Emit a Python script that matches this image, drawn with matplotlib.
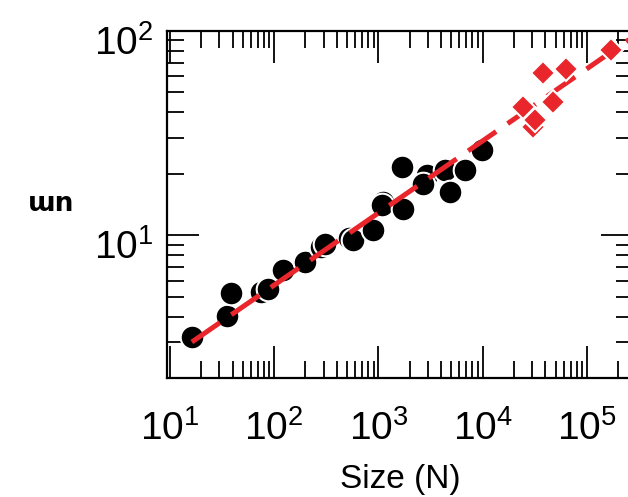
import matplotlib
matplotlib.use("Agg")
import matplotlib.pyplot as plt
from matplotlib.ticker import LogLocator, NullFormatter
from matplotlib.transforms import ScaledTranslation

plt.rcParams['font.family'] = ['Liberation Sans', 'DejaVu Sans']
plt.rcParams['mathtext.fontset'] = 'custom'
plt.rcParams['mathtext.rm'] = 'Liberation Sans'
plt.rcParams['mathtext.it'] = 'Liberation Sans'
plt.rcParams['mathtext.default'] = 'regular'

# Black circles: sizes N and values
circ_x = [16.3, 35.7, 38.7, 75, 88.3, 123, 198, 280, 308, 520, 575, 896, 1117, 1077, 1738, 1675,
          2904, 2698, 4355, 4864, 6776, 9772]
circ_y = [3.18, 4.01, 5.21, 5.3, 5.48, 6.74, 7.40, 8.8, 9.1, 9.7, 9.45, 10.6, 14.6, 14.0, 13.5, 21.6,
          19.7, 17.9, 20.8, 16.3, 20.8, 26.1]

# Red diamonds
dia_x = [30600, 24550, 31760, 46900, 38100, 62900, 172000]
dia_y = [34.0, 42.3, 36.6, 45.1, 62.0, 64.9, 80.7]

# Fitted power-law line end points
fit_x = [16.3, 2.8e5]
fit_y = [3.0, 94.0]

fig = plt.figure(figsize=(6.28, 4.97), dpi=100)
ax = fig.add_axes([167/628, (497-378)/497, (633-167)/628, (378-31)/497])
ax.set_xscale('log')
ax.set_yscale('log')
ax.set_xlim(10**0.974, 10**5.442)
ax.set_ylim(2, 100)

ax.plot(circ_x, circ_y, 'o', color='black', markersize=17, markeredgecolor='white',
        markeredgewidth=1.5, zorder=3)
ax.plot(fit_x, fit_y, color='#e8262b', lw=3.6, dashes=(6.8, 2.8), zorder=4)
ax.plot(dia_x, dia_y, 'D', color='#e8262b', markersize=12.5, markeredgecolor='white',
        markeredgewidth=1.5, zorder=5)

for s in ax.spines.values():
    s.set_linewidth(1.6)

ax.xaxis.set_major_locator(LogLocator(base=10, numticks=10))
ax.xaxis.set_minor_locator(LogLocator(base=10, subs=range(2, 10), numticks=20))
ax.yaxis.set_major_locator(LogLocator(base=10, numticks=10))
ax.yaxis.set_minor_locator(LogLocator(base=10, subs=range(2, 10), numticks=20))
ax.xaxis.set_minor_formatter(NullFormatter())
ax.yaxis.set_minor_formatter(NullFormatter())

ax.tick_params(which='both', direction='in', top=True, right=True, width=1.3, color='black')
ax.tick_params(which='major', length=23, labelsize=28)
ax.tick_params(which='minor', length=12)
ax.tick_params(axis='x', which='major', pad=23)
ax.tick_params(axis='y', which='major', pad=10)

ax.set_xlabel('Size (N)', fontsize=24, labelpad=12)
fig.text(51/628, 1 - 204/497, 'ɯn', fontsize=19, fontweight='bold', ha='center', va='center',
         family=['DejaVu Sans'])

shift = ScaledTranslation(0, -6.5/72, fig.dpi_scale_trans)
for tick in ax.yaxis.get_major_ticks():
    tick.label1.set_transform(tick.label1.get_transform() + shift)

fig.savefig('out.png', dpi=100)
